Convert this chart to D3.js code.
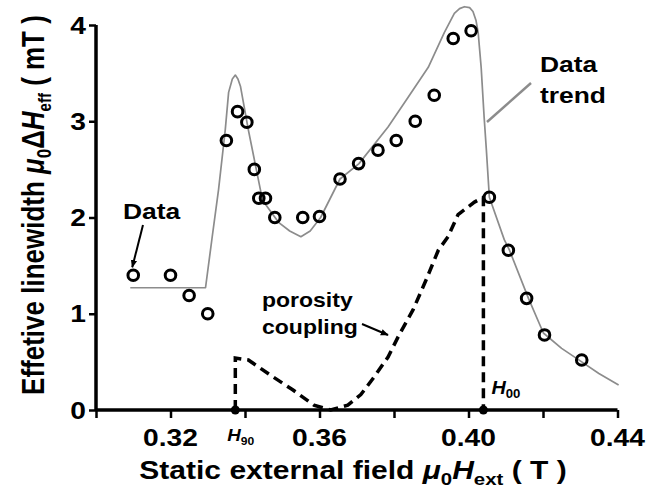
<!DOCTYPE html>
<html lang="en">
<head>
<meta charset="UTF-8">
<title></title>
<script src="https://cdnjs.cloudflare.com/ajax/libs/d3/7.8.5/d3.min.js"></script>
<style>
  body { margin: 0; background: #fff; }
  text { font-family: "Liberation Sans", Arial, sans-serif; font-weight: bold; fill: #000; }
</style>
</head>
<body>
<script>

var w = 647;
var h = 492;

// measured points (field in T, linewidth in mT)
var dataX = [0.310, 0.320, 0.325, 0.330, 0.335, 0.338, 0.3405, 0.3425, 0.3437, 0.3455, 0.348,
             0.3555, 0.360, 0.3655, 0.3705, 0.3757, 0.3806, 0.3857, 0.3908, 0.3959, 0.4007,
             0.4056, 0.4107, 0.4156, 0.4204, 0.4304];
var dataY = [1.40, 1.40, 1.19, 1.00, 2.80, 3.10, 2.99, 2.50, 2.20, 2.20, 2.00,
             2.00, 2.01, 2.40, 2.56, 2.70, 2.80, 3.00, 3.27, 3.86, 3.94,
             2.21, 1.66, 1.16, 0.78, 0.52];

// gray data trend
var trendX = [0.3092, 0.3294, 0.3312, 0.3329, 0.3347, 0.3356, 0.3366, 0.3374, 0.3381, 0.3388,
              0.3409, 0.3447, 0.349, 0.352, 0.355, 0.3575, 0.3603, 0.3655, 0.3706, 0.3784,
              0.3838, 0.3892, 0.3935, 0.3962, 0.3976, 0.3989, 0.4003, 0.4012, 0.4020, 0.4026,
              0.4034, 0.4042, 0.4048, 0.4056, 0.4096, 0.411, 0.4161, 0.4201, 0.425, 0.4304,
              0.4350, 0.4403];
var trendY = [1.27, 1.27, 1.80, 2.29, 2.91, 3.30, 3.44, 3.48, 3.44, 3.36,
              2.91, 2.18, 1.95, 1.86, 1.80, 1.86, 2.00, 2.40, 2.56, 2.94,
              3.25, 3.56, 3.92, 4.12, 4.17, 4.19, 4.18, 4.14, 4.05, 3.92,
              3.56, 3.04, 2.70, 2.21, 1.77, 1.66, 1.16, 0.80, 0.64, 0.50,
              0.38, 0.26];

// dashed porosity coupling
var porX = [0.3374, 0.3374, 0.3409, 0.3469, 0.3528, 0.3585, 0.3630, 0.3676, 0.3711, 0.3746,
            0.3784, 0.3811, 0.3851, 0.3886, 0.3919, 0.3945, 0.3972, 0.4016, 0.4040, 0.4040];
var porY = [0.00, 0.54, 0.52, 0.36, 0.21, 0.05, 0.00, 0.05, 0.16, 0.34,
            0.55, 0.76, 1.04, 1.35, 1.66, 1.80, 2.03, 2.16, 2.21, 0.00];

var H90 = 0.3374, H00 = 0.4040;

var xTicks = [0.30, 0.32, 0.34, 0.36, 0.38, 0.40, 0.42, 0.44];
var xLabels = [0.32, 0.36, 0.40, 0.44];
var yTicks = [0, 1, 2, 3, 4];

var x = d3.scaleLinear().domain([0.30, 0.44]).range([96, 617.5]);
var y = d3.scaleLinear().domain([0, 4]).range([410, 25]);

var svg = d3.select("body").append("svg")
    .attr("width", w)
    .attr("height", h);

// the scan is a bit stretched sideways, so text gets a horizontal scale
function label(px, py, size, anchor, sx) {
    return svg.append("text")
        .attr("transform", "translate(" + px + "," + py + ") scale(" + sx + ",1)")
        .attr("text-anchor", anchor)
        .attr("font-size", size);
}

var defs = svg.append("defs");
defs.append("marker")
    .attr("id", "arrow")
    .attr("viewBox", "0 0 10 10")
    .attr("refX", 9).attr("refY", 5)
    .attr("markerWidth", 4).attr("markerHeight", 4)
    .attr("orient", "auto")
    .append("path")
    .attr("d", "M0,1 L10,5 L0,9 Z")
    .attr("fill", "#000");

var line = d3.line()
    .x(function(d) { return x(d[0]); })
    .y(function(d) { return y(d[1]); });

// trend line
svg.append("path")
    .datum(d3.zip(trendX, trendY))
    .attr("d", line)
    .attr("fill", "none")
    .attr("stroke", "#8c8c8c")
    .attr("stroke-width", 1.7)
    .attr("stroke-linejoin", "round");

// porosity coupling dashed
svg.append("path")
    .datum(d3.zip(porX, porY))
    .attr("d", line)
    .attr("fill", "none")
    .attr("stroke", "#000")
    .attr("stroke-width", 3.5)
    .attr("stroke-dasharray", "10,6");

// axes
var xAxis = d3.axisBottom(x).tickValues(xTicks).tickSize(8).tickFormat("");
var gx = svg.append("g").attr("transform", "translate(0," + y(0) + ")").call(xAxis);
gx.select(".domain").attr("stroke-width", 3.5).attr("d", "M" + x(0.30) + ",0H" + x(0.44));
gx.selectAll(".tick line").attr("stroke-width", 2.5);

xLabels.forEach(function(d) {
    label(x(d), 446, 23.5, "middle", 1.2).text(d3.format(".2f")(d));
});

var yAxis = d3.axisLeft(y).tickValues(yTicks).tickSize(7).tickFormat("");
var gy = svg.append("g").attr("transform", "translate(" + x(0.30) + ",0)").call(yAxis);
gy.select(".domain").attr("stroke-width", 3.5).attr("d", "M0," + y(4) + "V" + y(0));
gy.selectAll(".tick line").attr("stroke-width", 2.5);

yTicks.forEach(function(d) {
    label(x(0.30) - 10, y(d) + 8.5, 23.5, "end", 1.2).text(d);
});

// data circles
svg.selectAll("circle.pt")
    .data(d3.zip(dataX, dataY))
    .enter().append("circle")
    .attr("class", "pt")
    .attr("cx", function(d) { return x(d[0]); })
    .attr("cy", function(d) { return y(d[1]); })
    .attr("r", 5.3)
    .attr("fill", "none")
    .attr("stroke", "#000")
    .attr("stroke-width", 3);

// H markers
svg.selectAll("circle.hm")
    .data([H90, H00])
    .enter().append("circle")
    .attr("class", "hm")
    .attr("cx", function(d) { return x(d); })
    .attr("cy", y(0))
    .attr("r", 4.5)
    .attr("fill", "#000");

var t90 = label(x(H90) - 8, 441, 17, "start", 1.1);
t90.append("tspan").attr("font-style", "italic").text("H");
t90.append("tspan").attr("font-size", 11).attr("dy", 4).text("90");

var t00 = label(x(H00) + 8, 394, 18, "start", 1.1);
t00.append("tspan").attr("font-style", "italic").text("H");
t00.append("tspan").attr("font-size", 12).attr("dy", 4).text("00");

// annotations
label(123, 219, 22, "start", 1.2).text("Data");
svg.append("line")
    .attr("x1", 143).attr("y1", 225)
    .attr("x2", x(0.310) - 1).attr("y2", y(1.40) - 8)
    .attr("stroke", "#000").attr("stroke-width", 2)
    .attr("marker-end", "url(#arrow)");

label(540, 72, 22, "start", 1.2).text("Data");
label(540, 103, 22, "start", 1.2).text("trend");
svg.append("line")
    .attr("x1", 531).attr("y1", 83)
    .attr("x2", 487).attr("y2", 122)
    .attr("stroke", "#8c8c8c").attr("stroke-width", 2.4);

label(262, 307, 20, "start", 1.15).text("porosity");
label(262, 334, 20, "start", 1.15).text("coupling");
svg.append("line")
    .attr("x1", 362).attr("y1", 324)
    .attr("x2", 388).attr("y2", 335)
    .attr("stroke", "#000").attr("stroke-width", 2)
    .attr("marker-end", "url(#arrow)");

// axis titles
var xt = label(353, 479, 25, "middle", 1.2);
xt.append("tspan").text("Static external field ");
xt.append("tspan").attr("font-style", "italic").text("\u03bc");
xt.append("tspan").attr("font-size", 17).attr("dy", 6).text("0");
xt.append("tspan").attr("font-style", "italic").attr("dy", -6).text("H");
xt.append("tspan").attr("font-size", 17).attr("dy", 6).text("ext");
xt.append("tspan").attr("dy", -6).text(" ( T )");

var yt = svg.append("text")
    .attr("transform", "translate(44,205) scale(1.2,1) rotate(-90)")
    .attr("text-anchor", "middle")
    .attr("font-size", 26);
yt.append("tspan").text("Effetive linewidth ");
yt.append("tspan").attr("font-style", "italic").text("\u03bc");
yt.append("tspan").attr("font-size", 17).attr("dy", 6).text("0");
yt.append("tspan").attr("dy", -6).text("\u0394");
yt.append("tspan").attr("font-style", "italic").text("H");
yt.append("tspan").attr("font-size", 15).attr("dy", 6).text("eff");
yt.append("tspan").attr("dy", -6).text(" ( mT )");

</script>
</body>
</html>
